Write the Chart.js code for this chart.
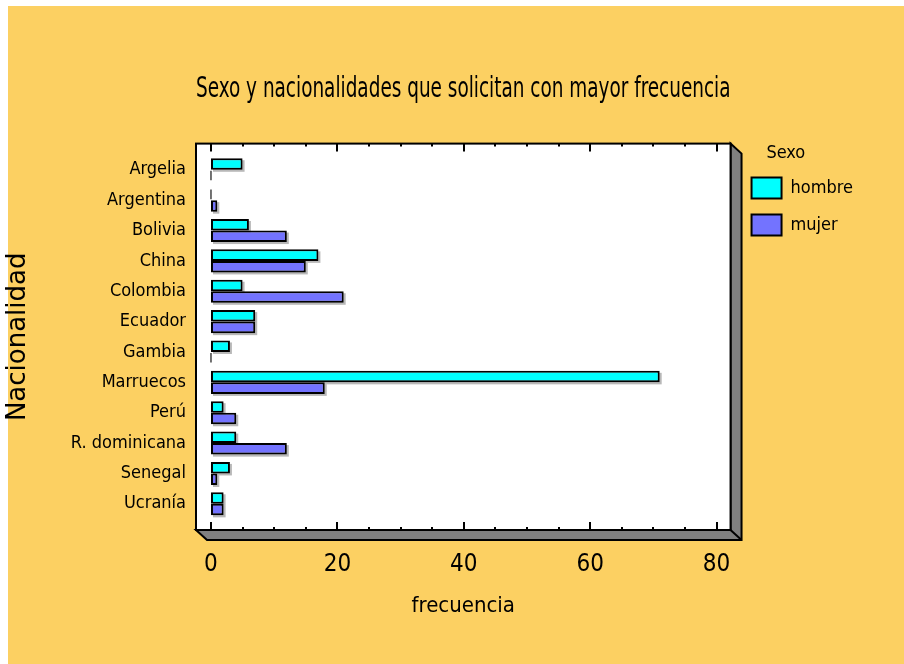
<!DOCTYPE html>
<html>
<head>
<meta charset="utf-8">
<script src="https://cdn.jsdelivr.net/npm/chart.js@4.4.0/dist/chart.umd.min.js"></script>
<style>
html, body { margin: 0; padding: 0; background: #ffffff; }
canvas { display: block; }
</style>
</head>
<body>
<canvas id="c" width="904" height="664"></canvas>
<script>
// ---- data ----
const categories = ['Argelia', 'Argentina', 'Bolivia', 'China', 'Colombia', 'Ecuador', 'Gambia', 'Marruecos', 'Perú', 'R. dominicana', 'Senegal', 'Ucranía'];
const hombre = [5, 0, 6, 17, 5, 7, 3, 71, 2, 4, 3, 2];
const mujer  = [0, 1, 12, 15, 21, 7, 0, 18, 4, 12, 1, 2];
const seriesNames = ['hombre', 'mujer'];
const xTicks = [0, 20, 40, 60, 80];
const chartTitle = 'Sexo y nacionalidades que solicitan con mayor frecuencia';
const xTitle = 'frecuencia';
const yTitle = 'Nacionalidad';
const legendTitle = 'Sexo';

// ---- styling ----
const NARROW = "'DejaVu Sans Condensed', 'Liberation Sans Narrow', 'Arial Narrow', sans-serif";
const REGULAR = "'DejaVu Sans', 'Liberation Sans', Arial, sans-serif";
const ORANGE = '#FCD062';
const FRAME_PAD = 11;
const DX = 11, DY = 10;
const LEGEND_TITLE_INDENT = '      ';

function frameRect(chart) {
  const a = chart.chartArea;
  return { L: a.left, R: a.right, T: a.top - FRAME_PAD, B: a.bottom + FRAME_PAD };
}

const decor = {
  id: 'decor',
  beforeDraw(chart) {
    const ctx = chart.ctx;
    const { L, R, T, B } = frameRect(chart);
    ctx.save();
    ctx.fillStyle = '#ffffff';
    ctx.fillRect(0, 0, chart.width, chart.height);
    ctx.fillStyle = ORANGE;
    ctx.fillRect(8, 6, chart.width - 8, chart.height - 6);
    // 3D depth
    ctx.beginPath();
    ctx.moveTo(R, T);
    ctx.lineTo(R + DX, T + DY);
    ctx.lineTo(R + DX, B + DY);
    ctx.lineTo(L + DX, B + DY);
    ctx.lineTo(L, B);
    ctx.lineTo(R, B);
    ctx.closePath();
    ctx.fillStyle = '#808080';
    ctx.fill();
    ctx.lineWidth = 2;
    ctx.strokeStyle = '#000';
    ctx.stroke();
    ctx.beginPath();
    ctx.moveTo(R, B);
    ctx.lineTo(R + DX, B + DY);
    ctx.stroke();
    ctx.fillStyle = '#ffffff';
    ctx.fillRect(L, T, R - L, B - T);
    ctx.restore();
  },
  beforeDatasetsDraw(chart) {
    const ctx = chart.ctx;
    ctx.save();
    ctx.fillStyle = 'rgba(0,0,0,0.28)';
    chart.data.datasets.forEach((ds, i) => {
      const meta = chart.getDatasetMeta(i);
      meta.data.forEach((el) => {
        const p = el.getProps(['x', 'y', 'base', 'height'], true);
        const left = Math.min(p.x, p.base);
        const w = Math.abs(p.x - p.base);
        if (w > 0.5) ctx.fillRect(left + 2, p.y - p.height / 2 + 2, w, p.height);
      });
    });
    ctx.restore();
  },
  afterDatasetsDraw(chart) {
    const ctx = chart.ctx;
    const { L, R, T, B } = frameRect(chart);
    ctx.save();
    // zero-length bars drawn as thin lines
    ctx.strokeStyle = '#444';
    ctx.lineWidth = 1.5;
    chart.data.datasets.forEach((ds, i) => {
      const meta = chart.getDatasetMeta(i);
      meta.data.forEach((el, j) => {
        if (ds.data[j] === 0) {
          const p = el.getProps(['x', 'y', 'base', 'height'], true);
          ctx.beginPath();
          ctx.moveTo(p.base, p.y - p.height / 2 + 1);
          ctx.lineTo(p.base, p.y + p.height / 2 - 1);
          ctx.stroke();
        }
      });
    });
    // tick marks inside the frame, top and bottom
    const xs = chart.scales.x;
    const step = (xTicks[1] - xTicks[0]) / 4;
    ctx.strokeStyle = '#000';
    ctx.lineWidth = 2;
    for (let v = xTicks[0]; v <= xTicks[xTicks.length - 1] + 1e-9; v += step) {
      const px = Math.round(xs.getPixelForValue(v));
      const major = xTicks.includes(v);
      const len = major ? 8 : 3;
      ctx.beginPath();
      ctx.moveTo(px, B);
      ctx.lineTo(px, B - len);
      ctx.moveTo(px, T);
      ctx.lineTo(px, T + len);
      ctx.stroke();
    }
    // frame border
    ctx.lineWidth = 2;
    ctx.strokeRect(L, T, R - L, B - T);
    ctx.restore();
  }
};

const ctx = document.getElementById('c').getContext('2d');
new Chart(ctx, {
  type: 'bar',
  data: {
    labels: categories,
    datasets: [
      { label: seriesNames[0], data: hombre, backgroundColor: '#00FFFF' },
      { label: seriesNames[1], data: mujer, backgroundColor: '#7373FF' }
    ]
  },
  options: {
    responsive: false,
    animation: false,
    indexAxis: 'y',
    layout: { padding: { top: 0, left: 0, right: 41, bottom: 45 } },
    datasets: {
      bar: {
        categoryPercentage: 0.76,
        barPercentage: 1,
        borderWidth: 2,
        borderColor: '#000',
        borderSkipped: false
      }
    },
    scales: {
      x: {
        type: 'linear',
        position: 'bottom',
        min: -2.37,
        max: 82.21,
        afterFit(s) { s.height = 100; },
        ticks: {
          stepSize: 20,
          includeBounds: false,
          padding: 31,
          color: '#000',
          font: { family: NARROW, size: 24 }
        },
        grid: { display: false, drawTicks: false },
        border: { display: false },
        title: {
          display: true, text: xTitle, color: '#000',
          font: { family: NARROW, size: 22 },
          padding: { top: 0, bottom: 0 }
        }
      },
      y: {
        type: 'category',
        position: 'left',
        afterFit(s) { s.width = 196; },
        ticks: { padding: 10, color: '#000', font: { family: NARROW, size: 18 } },
        grid: { display: false, drawTicks: false },
        border: { display: false },
        title: {
          display: true, text: yTitle, color: '#000',
          font: { family: REGULAR, size: 26 },
          padding: { top: 3, bottom: 0 }
        }
      },
      yR: {
        type: 'category',
        position: 'right',
        afterFit(s) { s.width = 5; },
        ticks: { display: false },
        grid: { display: false, drawTicks: false },
        border: { display: false }
      }
    },
    plugins: {
      title: {
        display: true, text: chartTitle, fullSize: false, color: '#000',
        font: { family: NARROW, size: 28, weight: 'normal' },
        padding: { top: 73, bottom: 48 }
      },
      legend: {
        position: 'right',
        align: 'start',
        fullSize: true,
        labels: {
          boxWidth: 30, boxHeight: 21, padding: 16, color: '#000',
          font: { family: NARROW, size: 18 }
        },
        title: {
          display: true, text: LEGEND_TITLE_INDENT + legendTitle, color: '#000', position: 'start',
          font: { family: NARROW, size: 18, lineHeight: 0.8 },
          padding: { top: 144, bottom: 3 }
        }
      },
      tooltip: { enabled: false }
    }
  },
  plugins: [decor]
});
</script>
</body>
</html>
